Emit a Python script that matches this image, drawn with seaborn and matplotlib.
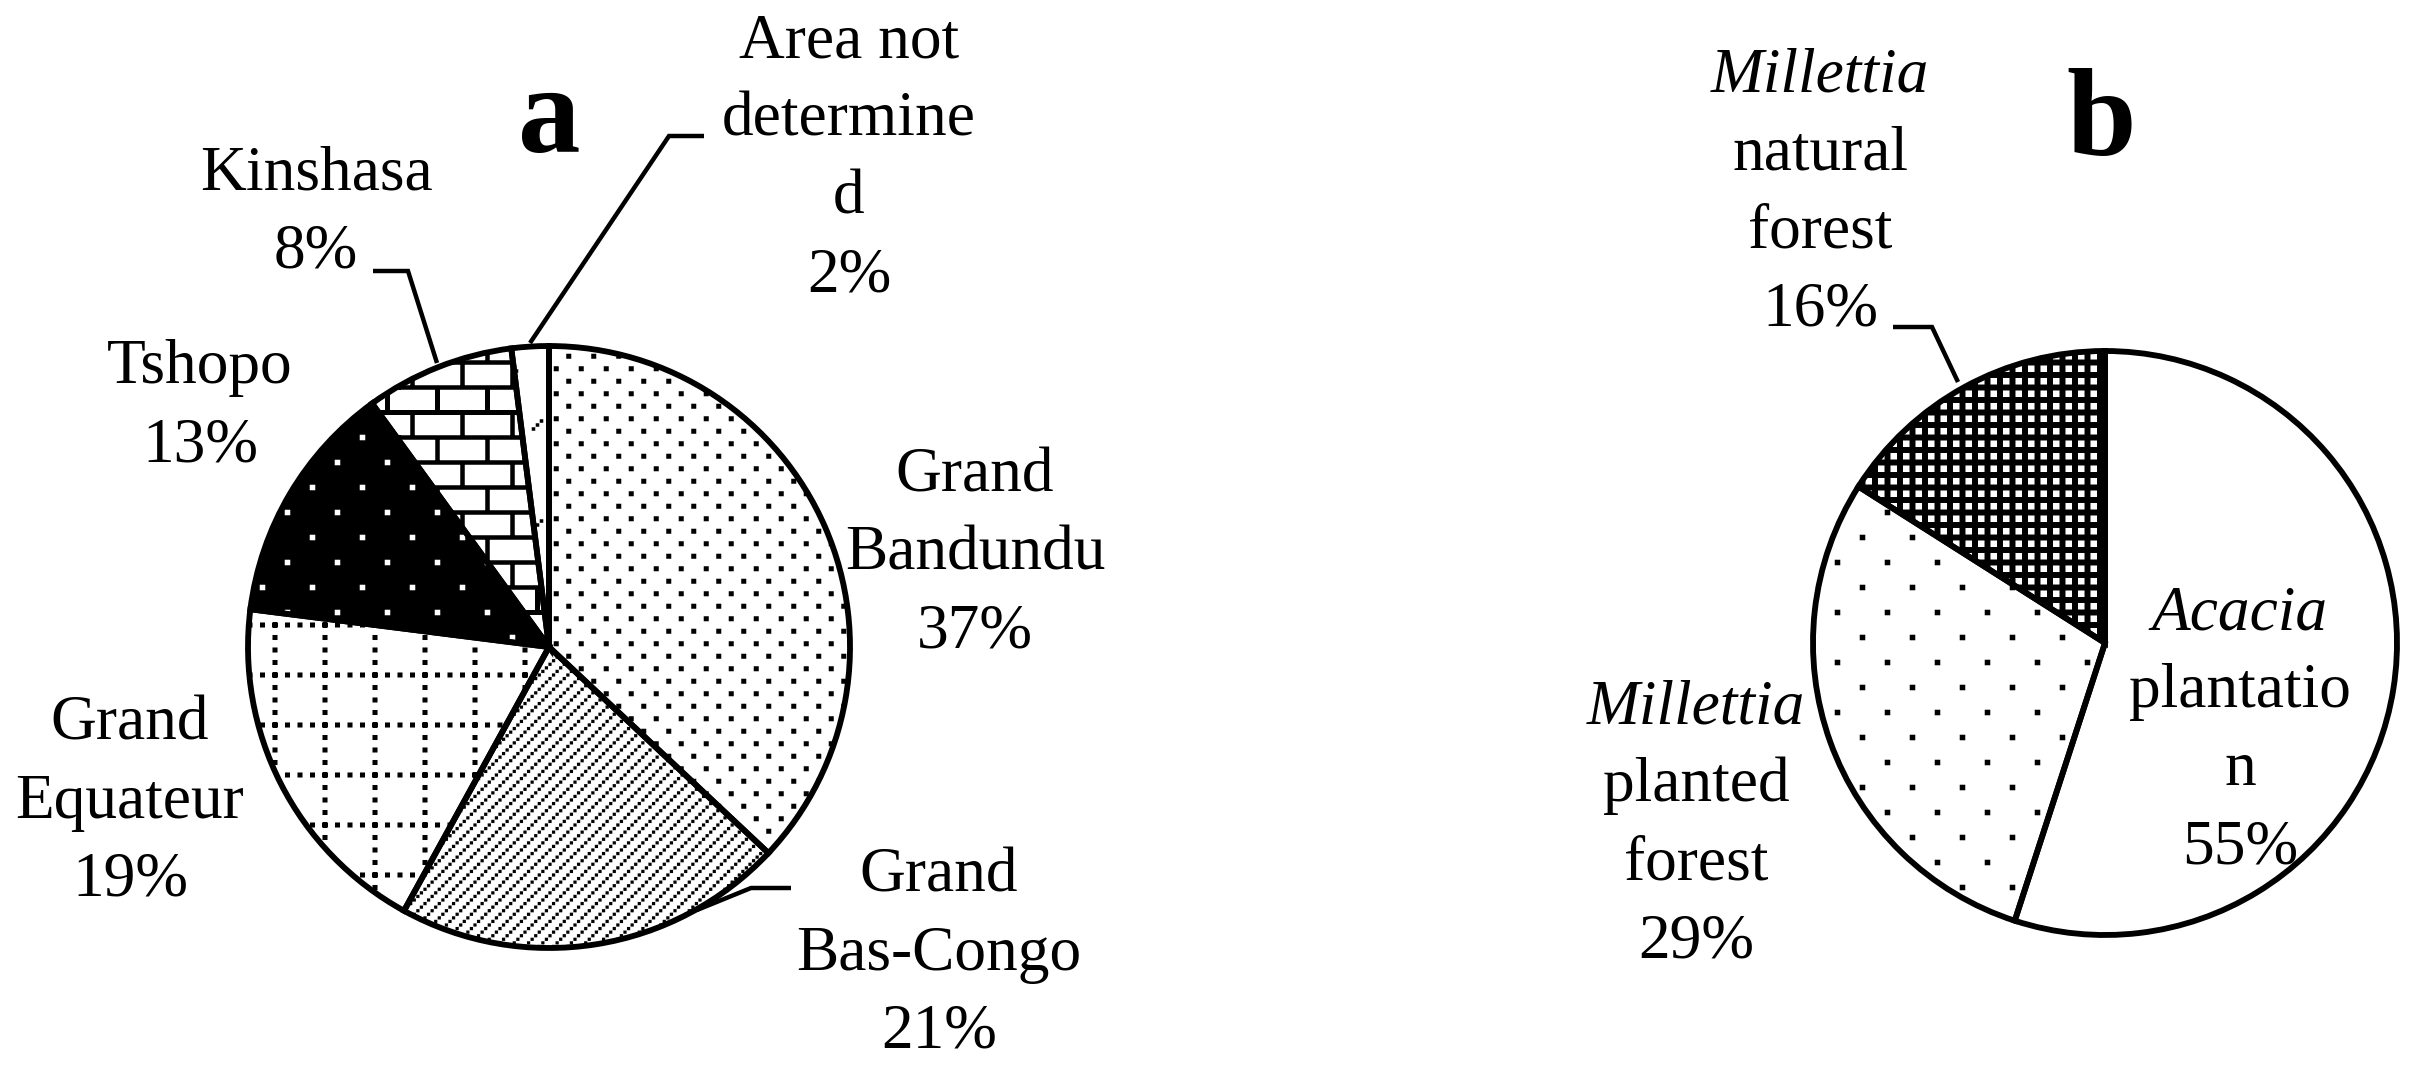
import numpy as np
import matplotlib
matplotlib.use("Agg")
import matplotlib.pyplot as plt
import matplotlib.backend_bases as mbb
from matplotlib.path import Path
import seaborn as sns

# ---------------- data ----------------
regions_a = ["Grand\nBandundu", "Grand\nBas-Congo", "Grand\nEquateur",
             "Tshopo", "Kinshasa", "Area not\ndetermine\nd"]
shares_a = [37, 21, 19, 13, 8, 2]

types_b = ["Acacia\nplantatio\nn", "Millettia\nplanted\nforest",
           "Millettia\nnatural\nforest"]
shares_b = [55, 29, 16]

italic_words = {"Acacia", "Millettia"}

# ---------------- layout / style ----------------
W, H, DPI = 2419, 1070, 200
TILE = float(DPI)          # hatch tile size in pixels

sns.set_theme(style="white")
plt.rcParams["font.family"] = ["Liberation Serif", "DejaVu Serif"]
plt.rcParams["hatch.linewidth"] = 0.01

# --------- custom hatch patterns (drawn as filled squares / bars) ---------
def _rect(x0, y0, x1, y1):
    v = [(x0, y0), (x1, y0), (x1, y1), (x0, y1), (x0, y0)]
    c = [Path.MOVETO, Path.LINETO, Path.LINETO, Path.LINETO, Path.CLOSEPOLY]
    return v, c


def _build(rects):
    verts, codes = [], []
    for sx in (-TILE, 0, TILE):
        for sy in (-TILE, 0, TILE):
            for (x0, y0, x1, y1) in rects:
                v, c = _rect((x0 + sx) / TILE, (y0 + sy) / TILE,
                             (x1 + sx) / TILE, (y1 + sy) / TILE)
                verts += v
                codes += c
    return Path(np.array(verts), np.array(codes, dtype=Path.code_type))


def _sq(x, y, s):
    return (x - s / 2, y - s / 2, x + s / 2, y + s / 2)


def stagger(ncols, nrows, size):
    dx, dy = TILE / ncols, TILE / nrows
    out = []
    for r in range(nrows):
        for c in range(ncols):
            out.append(_sq((c + 0.25 + 0.5 * (r % 2)) * dx, (r + 0.5) * dy, size))
    return out


def grid(n, size):
    d = TILE / n
    return [_sq((c + 0.5) * d, (r + 0.5) * d, size) for r in range(n) for c in range(n)]


def diag_dotted(nalong, nlines, size):
    step = TILE / nalong
    gap = TILE / nlines
    out = []
    for a in range(nalong):
        for b in range(nlines):
            out.append(_sq((a * step + b * gap) % TILE, a * step, size))
    return out


def dotted_grid(nlines, ndots, size):
    out = []
    for k in range(nlines):
        pos = (k + 0.5) * TILE / nlines
        for j in range(ndots):
            q = j * TILE / ndots
            out.append(_sq(pos, q, size))
            out.append(_sq(q, pos, size))
    return out


def bricks(nrows, ncols, t):
    dy, dx = TILE / nrows, TILE / ncols
    out = []
    for r in range(-1, nrows):
        y = (r + 0.5) * dy
        out.append((-1, y - t / 2, TILE + 1, y + t / 2))
        for c in range(ncols):
            x = (c + 0.25 + 0.5 * (r % 2)) * dx
            out.append((x - t / 2, y, x + t / 2, y + dy))
    return out


def dashes(ncols, nrows, size):
    dx, dy = TILE / ncols, TILE / nrows
    out = []
    for r in range(nrows):
        for c in range(ncols):
            x0 = (c + 0.25 + 0.5 * (r % 2)) * dx
            y0 = (r + 0.5) * dy
            for k in (-1, 0, 1):
                out.append(_sq(x0 + 4 * k, y0 + 4 * k, size))
    return out


HATCHES = {
    ".": _build(stagger(8, 16, 5.0)),        # Grand Bandundu
    "/": _build(diag_dotted(56, 14, 3.2)),   # Grand Bas-Congo
    "+": _build(dotted_grid(4, 16, 5.0)),    # Grand Equateur
    "o": _build(stagger(4, 8, 5.5)),         # Tshopo (white on black)
    "-": _build(bricks(8, 4, 4.5)),          # Kinshasa
    "x": _build(dashes(4, 4, 3.5)),          # Area not determined
    "O": _build(stagger(4, 8, 5.5)),         # Millettia planted forest
    "*": _build(grid(16, 6.5)),              # Millettia natural forest (white on black)
}

_orig_get_hatch_path = mbb.GraphicsContextBase.get_hatch_path


def _get_hatch_path(self, density=6.0):
    h = self.get_hatch()
    if h in HATCHES:
        return HATCHES[h]
    return _orig_get_hatch_path(self, density)


mbb.GraphicsContextBase.get_hatch_path = _get_hatch_path

style_a = [("white", ".", "black"), ("white", "/", "black"), ("white", "+", "black"),
           ("black", "o", "white"), ("white", "-", "black"), ("white", "x", "black")]
style_b = [("white", None, "black"), ("white", "O", "black"), ("black", "*", "white")]

# pie geometry (pixels, y measured from top)
pie_a = dict(cx=549, cy=647, r=301)
pie_b = dict(cx=2105, cy=643, r=292)

# label anchors: (centre x, first baseline y) in pixels from top
lab_a = [(975, 492), (939, 892), (130, 740), (200, 383), (316, 190), (849, 58)]
lab_b = [(2240, 629), (1696, 723), (1820, 92)]
LS = 78
FS = 22.8

leaders = [
    [(704, 136), (669, 136), (530, 343)],     # Area not determined
    [(373, 271), (408, 271), (437, 363)],     # Kinshasa
    [(697, 910), (751, 888), (791, 888)],     # Grand Bas-Congo
    [(1893, 327), (1932, 327), (1958, 382)],  # Millettia natural forest
]

# ---------------- figure ----------------
fig = plt.figure(figsize=(W / DPI, H / DPI), dpi=DPI)
ax = fig.add_axes([0, 0, 1, 1])


def draw_pie(values, geo, styles):
    centre = (geo["cx"], H - geo["cy"])
    wedges, _ = ax.pie(values, startangle=90, counterclock=False,
                       center=centre, radius=geo["r"],
                       wedgeprops=dict(linewidth=0))
    for w, (fc, hatch, hc) in zip(wedges, styles):
        w.set_facecolor(fc)
        w.set_edgecolor(hc)
        w.set_linewidth(0)
        if hatch:
            w.set_hatch(hatch)
    ax.pie(values, startangle=90, counterclock=False, center=centre,
           radius=geo["r"],
           wedgeprops=dict(fill=False, edgecolor="black", linewidth=2.1,
                           joinstyle="miter"))


draw_pie(shares_a, pie_a, style_a)
draw_pie(shares_b, pie_b, style_b)


def draw_labels(names, values, anchors):
    for name, v, (x, y0) in zip(names, values, anchors):
        lines = name.split("\n") + [f"{v}%"]
        for i, line in enumerate(lines):
            ax.text(x, H - (y0 + i * LS), line, ha="center", va="baseline",
                    fontsize=FS, color="black",
                    fontstyle="italic" if line in italic_words else "normal")


draw_labels(regions_a, shares_a, lab_a)
draw_labels(types_b, shares_b, lab_b)

for pts in leaders:
    xs = [p[0] for p in pts]
    ys = [H - p[1] for p in pts]
    ax.plot(xs, ys, color="black", linewidth=1.6, solid_joinstyle="miter",
            solid_capstyle="butt")

ax.text(549, H - 152, "a", ha="center", va="baseline", fontsize=45,
        fontweight="bold", color="black")
ax.text(2101, H - 155, "b", ha="center", va="baseline", fontsize=45,
        fontweight="bold", color="black")

ax.set_xlim(0, W)
ax.set_ylim(0, H)
ax.set_aspect("auto")
ax.axis("off")

fig.savefig("out.png", dpi=DPI, facecolor="white")
